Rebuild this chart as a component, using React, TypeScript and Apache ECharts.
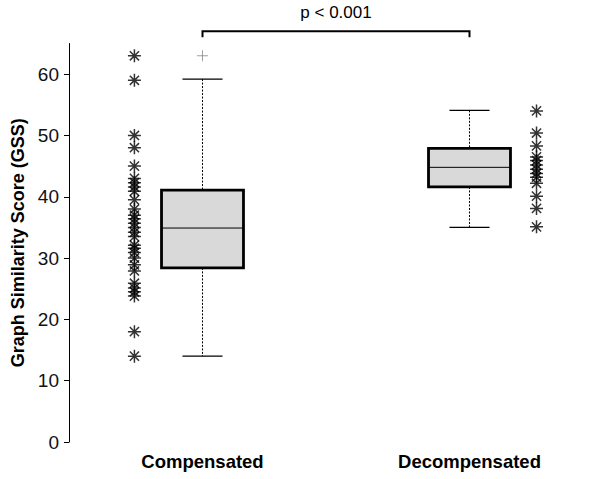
import React, { useEffect, useRef } from "react";
import * as echarts from "echarts";

const categories = ["Compensated", "Decompensated"];
// box stats: min, q1, median, q3, max
const compensatedBox = [14, 28.4, 34.9, 41.1, 59.2];
const decompensatedBox = [35, 41.6, 44.8, 47.9, 54.1];
const compensatedOutliers = [63];
const compensatedPoints = [
  63, 59, 50, 48, 45, 43, 42.3, 41.6, 40.9, 39.5, 38, 37, 36.4, 35.7, 35, 34.2,
  33.5, 32.1, 31.6, 30.9, 30, 28.9, 27.9, 25.9, 25.1, 24.5, 23.8, 18, 14,
];
const decompensatedPoints = [
  54, 50.4, 48.3, 46.5, 45.9, 45.2, 44.5, 43.8, 43.2, 42.2, 40.1, 38.1, 35.1,
];
const yTicks = [0, 10, 20, 30, 40, 50, 60];
const pValueText = "p < 0.001";

const FONT = "Liberation Sans, Arial, sans-serif";
const ASTERISK =
  "path://M0,-10L0,10M-10,0L10,0M-7.07,-7.07L7.07,7.07M-7.07,7.07L7.07,-7.07";
const PLUS = "path://M0,-10L0,10M-10,0L10,0";
// scatter column offsets (layout) on hidden value axis [0,2]
const LEFT_SCATTER_X = 0.245;
const RIGHT_SCATTER_X = 1.751;

export default function App() {
  const ref = useRef<HTMLDivElement>(null);
  useEffect(() => {
    if (!ref.current) return;
    const chart = echarts.init(ref.current, null, { renderer: "svg" });
    const boxData = [
      [0, ...compensatedBox],
      [1, ...decompensatedBox],
    ];
    chart.setOption({
      animation: false,
      backgroundColor: "#fff",
      grid: { left: 69, right: 1, top: 43.5, bottom: 37, containLabel: false },
      xAxis: [
        {
          type: "category",
          data: categories,
          boundaryGap: true,
          axisLine: { show: false },
          axisTick: { show: false },
          axisLabel: {
            fontFamily: FONT,
            fontSize: 18.5,
            fontWeight: "bold",
            color: "#000",
            margin: 10,
          },
        },
        { type: "value", min: 0, max: 2, show: false },
      ],
      yAxis: {
        type: "value",
        min: 0,
        max: 65,
        interval: 10,
        name: "Graph Similarity Score (GSS)",
        nameLocation: "middle",
        nameGap: 41,
        nameTextStyle: {
          fontFamily: FONT,
          fontSize: 18,
          fontWeight: "bold",
          color: "#000",
        },
        axisLine: { show: true, lineStyle: { color: "#000", width: 1 } },
        axisTick: {
          show: true,
          length: 5,
          lineStyle: { color: "#000" },
          customValues: yTicks,
        },
        axisLabel: {
          fontFamily: FONT,
          fontSize: 19,
          color: "#111",
          margin: 10,
          customValues: yTicks,
          formatter: (v: number) => (yTicks.includes(v) ? String(v) : ""),
        },
        splitLine: { show: false },
      },
      series: [
        {
          type: "custom",
          xAxisIndex: 0,
          data: boxData,
          encode: { x: 0, y: [1, 2, 3, 4, 5] },
          renderItem: (params: any, api: any) => {
            const idx = api.value(0);
            const mn = api.value(1),
              q1 = api.value(2),
              md = api.value(3),
              q3 = api.value(4),
              mx = api.value(5);
            const band = api.size([1, 0])[0];
            const bw = band * 0.307;
            const cw = band * 0.15;
            const cx = api.coord([idx, md])[0];
            const y = (v: number) => api.coord([idx, v])[1];
            const dash = { stroke: "#000", lineWidth: 1, lineDash: [2, 1.5] };
            const solid = { stroke: "#000", lineWidth: 1.3 };
            return {
              type: "group",
              children: [
                { type: "line", shape: { x1: cx, y1: y(mx), x2: cx, y2: y(q3) }, style: dash },
                { type: "line", shape: { x1: cx, y1: y(q1), x2: cx, y2: y(mn) }, style: dash },
                { type: "line", shape: { x1: cx - cw / 2, y1: y(mx), x2: cx + cw / 2, y2: y(mx) }, style: solid },
                { type: "line", shape: { x1: cx - cw / 2, y1: y(mn), x2: cx + cw / 2, y2: y(mn) }, style: solid },
                {
                  type: "rect",
                  shape: { x: cx - bw / 2, y: y(q3), width: bw, height: y(q1) - y(q3) },
                  style: { fill: "#d9d9d9", stroke: "#000", lineWidth: 2.8 },
                },
                { type: "line", shape: { x1: cx - bw / 2, y1: y(md), x2: cx + bw / 2, y2: y(md) }, style: { stroke: "#000", lineWidth: 1 } },
              ],
            };
          },
          z: 2,
        },
        {
          type: "scatter",
          xAxisIndex: 0,
          data: compensatedOutliers.map((v) => [0, v]),
          symbol: PLUS,
          symbolSize: 11,
          itemStyle: { color: "transparent", borderColor: "#888", borderWidth: 1 },
          z: 3,
        },
        {
          type: "scatter",
          xAxisIndex: 1,
          data: compensatedPoints.map((v) => [LEFT_SCATTER_X, v]),
          symbol: ASTERISK,
          symbolSize: 13,
          itemStyle: { color: "transparent", borderColor: "#000", borderWidth: 1.5 },
          z: 3,
        },
        {
          type: "scatter",
          xAxisIndex: 1,
          data: decompensatedPoints.map((v) => [RIGHT_SCATTER_X, v]),
          symbol: ASTERISK,
          symbolSize: 13,
          itemStyle: { color: "transparent", borderColor: "#000", borderWidth: 1.5 },
          z: 3,
        },
        {
          type: "custom",
          xAxisIndex: 1,
          clip: false,
          data: [[0.5, 1.5, 67, 66, 70]],
          encode: { x: [0, 1], y: [2, 3] },
          renderItem: (params: any, api: any) => {
            const x1 = api.coord([api.value(0), api.value(2)])[0];
            const x2 = api.coord([api.value(1), api.value(2)])[0];
            const yt = api.coord([api.value(0), api.value(2)])[1];
            const yb = api.coord([api.value(0), api.value(3)])[1];
            const ytxt = api.coord([api.value(0), api.value(4)])[1];
            return {
              type: "group",
              children: [
                {
                  type: "polyline",
                  shape: { points: [[x1, yb], [x1, yt], [x2, yt], [x2, yb]] },
                  style: { stroke: "#000", lineWidth: 2, fill: "none" },
                },
                {
                  type: "text",
                  x: (x1 + x2) / 2,
                  y: ytxt,
                  style: {
                    text: pValueText,
                    fontFamily: FONT,
                    fontSize: 17,
                    fill: "#000",
                    align: "center",
                    verticalAlign: "middle",
                  },
                },
              ],
            };
          },
          z: 4,
        },
      ],
    });
    return () => chart.dispose();
  }, []);
  return <div ref={ref} style={{ width: 604, height: 479, position: "fixed", left: 0, top: 0 }} />;
}
